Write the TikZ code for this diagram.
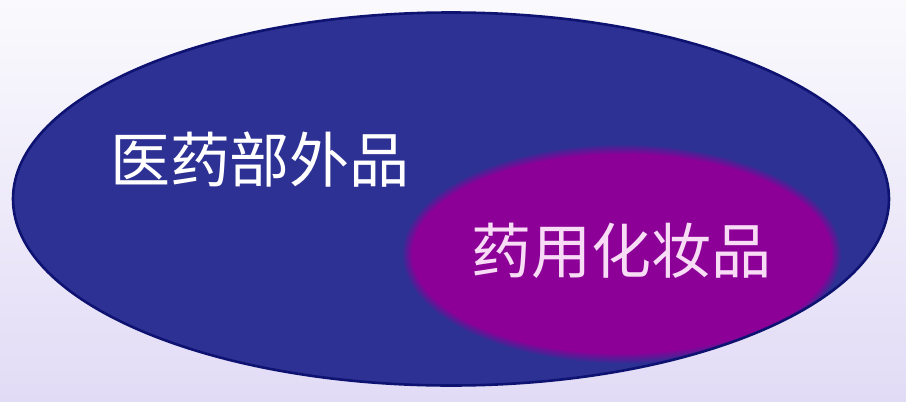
\documentclass[tikz,border=0pt]{standalone}
\usepackage{fontspec}
\usepackage{tikz}
\usetikzlibrary{shapes.geometric}
\newfontfamily\cjk{Noto Sans CJK SC}
\definecolor{bgtop}{HTML}{FAFAFD}
\definecolor{bgbot}{HTML}{E2DBF6}
\definecolor{navyfill}{HTML}{2D3194}
\definecolor{navyline}{HTML}{0E1270}
\definecolor{violet}{HTML}{8C0098}
\definecolor{pinktext}{HTML}{F8DCF6}
\begin{document}
\begin{tikzpicture}[x=1pt, y=-1pt, font=\cjk\fontsize{60}{64}\selectfont,
    outer/.style = {ellipse, minimum width=876pt, minimum height=373pt, inner sep=0pt, outer sep=0pt},
    inner/.style = {fill=violet, ellipse, minimum width=420pt, minimum height=200pt, inner sep=0pt},
    label/.style = {text=white, inner sep=0pt}]
                \shade[shading angle=135, top color=bgtop, bottom color=bgbot] (0,0) rectangle (906,402);
                \useasboundingbox (0,0) rectangle (906,402);
                \node[outer, fill=navyfill] (med) at (451,199) {};
                \begin{scope}
                    \clip (451,199) ellipse [x radius=438, y radius=186.5];
                    % soft rim of the inner oval
                    \foreach \i in {6,...,1}
                        \node[inner, fill=violet!\the\numexpr100-\i*14\relax!navyfill, minimum width={420pt+\i*3pt}, minimum height={200pt+\i*3pt}] at (622,254) {};
                    \node[inner] (cos) at (622,254) {};
                \end{scope}
                \node[outer, draw=navyline, line width=2.6pt] at (med) {};
                \node[label] (t0) at (260,160) {医药部外品};
                \node[label, text=pinktext] (t1) at (621,251) {药用化妆品};
            \end{tikzpicture}
\end{document}
